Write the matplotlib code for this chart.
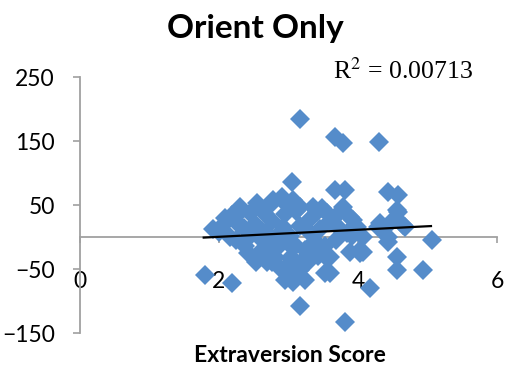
import matplotlib
matplotlib.use("Agg")
import matplotlib.pyplot as plt
import numpy as np

# extraversion score vs. value
extraversion = [
    1.80, 2.19, 1.91, 2.06, 2.16, 2.30, 2.42, 2.55, 2.76, 2.45,
    2.78, 3.17, 3.67, 3.78, 3.05, 3.67, 3.81, 4.30, 4.43, 4.58,
    4.56, 3.88, 3.99, 4.32, 4.68, 5.06, 4.56, 4.56, 4.94, 4.17,
    3.81, 4.07, 3.60, 3.60, 4.43, 3.84, 3.17, 2.95, 3.06, 2.69,
    2.88, 3.14, 3.21, 4.03, 3.88, 3.17, 3.35, 3.55, 3.93, 3.78,
    4.07, 4.29, 3.55, 3.53, 4.03, 4.65, 4.46, 4.43, 4.32, 4.58,
    2.00, 2.24, 2.36, 2.52, 2.62, 2.73, 2.88, 3.02, 3.17, 3.31,
    3.45, 3.60, 2.66, 2.95, 3.11, 3.38, 3.53, 3.24, 3.02, 2.81,
    2.56, 2.37, 2.53, 2.92, 2.76, 3.31, 3.68, 3.74, 3.42, 3.17,
    3.02, 2.91, 3.06, 3.41, 2.09, 2.68, 3.28, 3.48, 3.71, 3.09,
    2.82, 3.91, 2.43, 2.29, 2.62, 2.76, 2.92, 3.11, 3.24, 3.07,
    2.30, 2.19, 2.98,
]
orient = [
    -59, -72, 12, 19, 0, 47, -25, 53, 53, 37,
    58, 184, 156, 147, 86, 73, 73, 148, 70, 66,
    42, 31, 16, 16, 16, -5, -31, -52, -52, -80,
    -133, -23, -31, -56, 0, 6, -108, -67, -70, -39,
    -48, -47, -36, -25, -23, 47, 47, 37, 27, 47,
    0, 16, -33, -56, -20, 19, 22, -8, 22, 39,
    8, -5, 14, 20, -5, -20, -12, 2, 17, 28,
    12, 25, 36, 36, 41, -6, -14, -20, -33, -31,
    8, -14, -39, 16, 25, 6, -5, 12, -30, -52,
    -59, 62, 58, 39, 30, 8, -39, 45, 36, -12,
    0, 2, 0, 19, -20, -39, -52, -39, -67, -17,
    39, 34, 50,
]

# linear trendline as shown in the chart
trend_slope = 5.5
trend_intercept = -10.7
trend_range = [1.78, 5.05]
r2_label = r"R$^2$ = 0.00713"

plt.rcParams["mathtext.fontset"] = "stix"

fig = plt.figure(figsize=(5.1, 3.74), dpi=100)
ax = fig.add_axes([80 / 510, 1 - 333 / 374, 417 / 510, 256 / 374])

ax.plot(extraversion, orient, linestyle="none", marker="D", markersize=10,
        markeredgewidth=0, color="#558cca", zorder=3)

tx = np.array(trend_range)
ax.plot(tx, trend_slope * tx + trend_intercept, color="black", lw=1.6, zorder=4)

ax.set_xlim(0, 6)
ax.set_ylim(-150, 250)
ax.set_xticks([0, 2, 4, 6])
ax.set_yticks([-150, -50, 50, 150, 250])

for s in ["top", "right"]:
    ax.spines[s].set_visible(False)
ax.spines["bottom"].set_position(("data", 0))
ax.spines["bottom"].set_color("#a0a0a0")
ax.spines["left"].set_color("#a0a0a0")
ax.spines["bottom"].set_linewidth(1.3)
ax.spines["left"].set_linewidth(1.3)
ax.spines["bottom"].set_zorder(1)

ax.tick_params(axis="x", direction="out", length=4.5, width=1.2,
               color="#a0a0a0", pad=20, labelsize=16.5)
ax.tick_params(axis="y", direction="out", length=5, width=1.2,
               color="#a0a0a0", pad=13, labelsize=16.5)
for lab in ax.get_xticklabels() + ax.get_yticklabels():
    lab.set_family("Lato")

fig.text(0.5, 0.925, "Orient Only", ha="center", va="center",
         fontsize=24, fontweight="bold", family="Lato")
fig.text(290 / 510, 1 - 356 / 374, "Extraversion Score", ha="center",
         va="center", fontsize=16.5, fontweight="bold", family="Lato")
fig.text(333 / 510, 1 - 79 / 374, r2_label, ha="left", va="baseline",
         fontsize=18.5, family="Liberation Serif")

fig.savefig("out.png", dpi=100)
